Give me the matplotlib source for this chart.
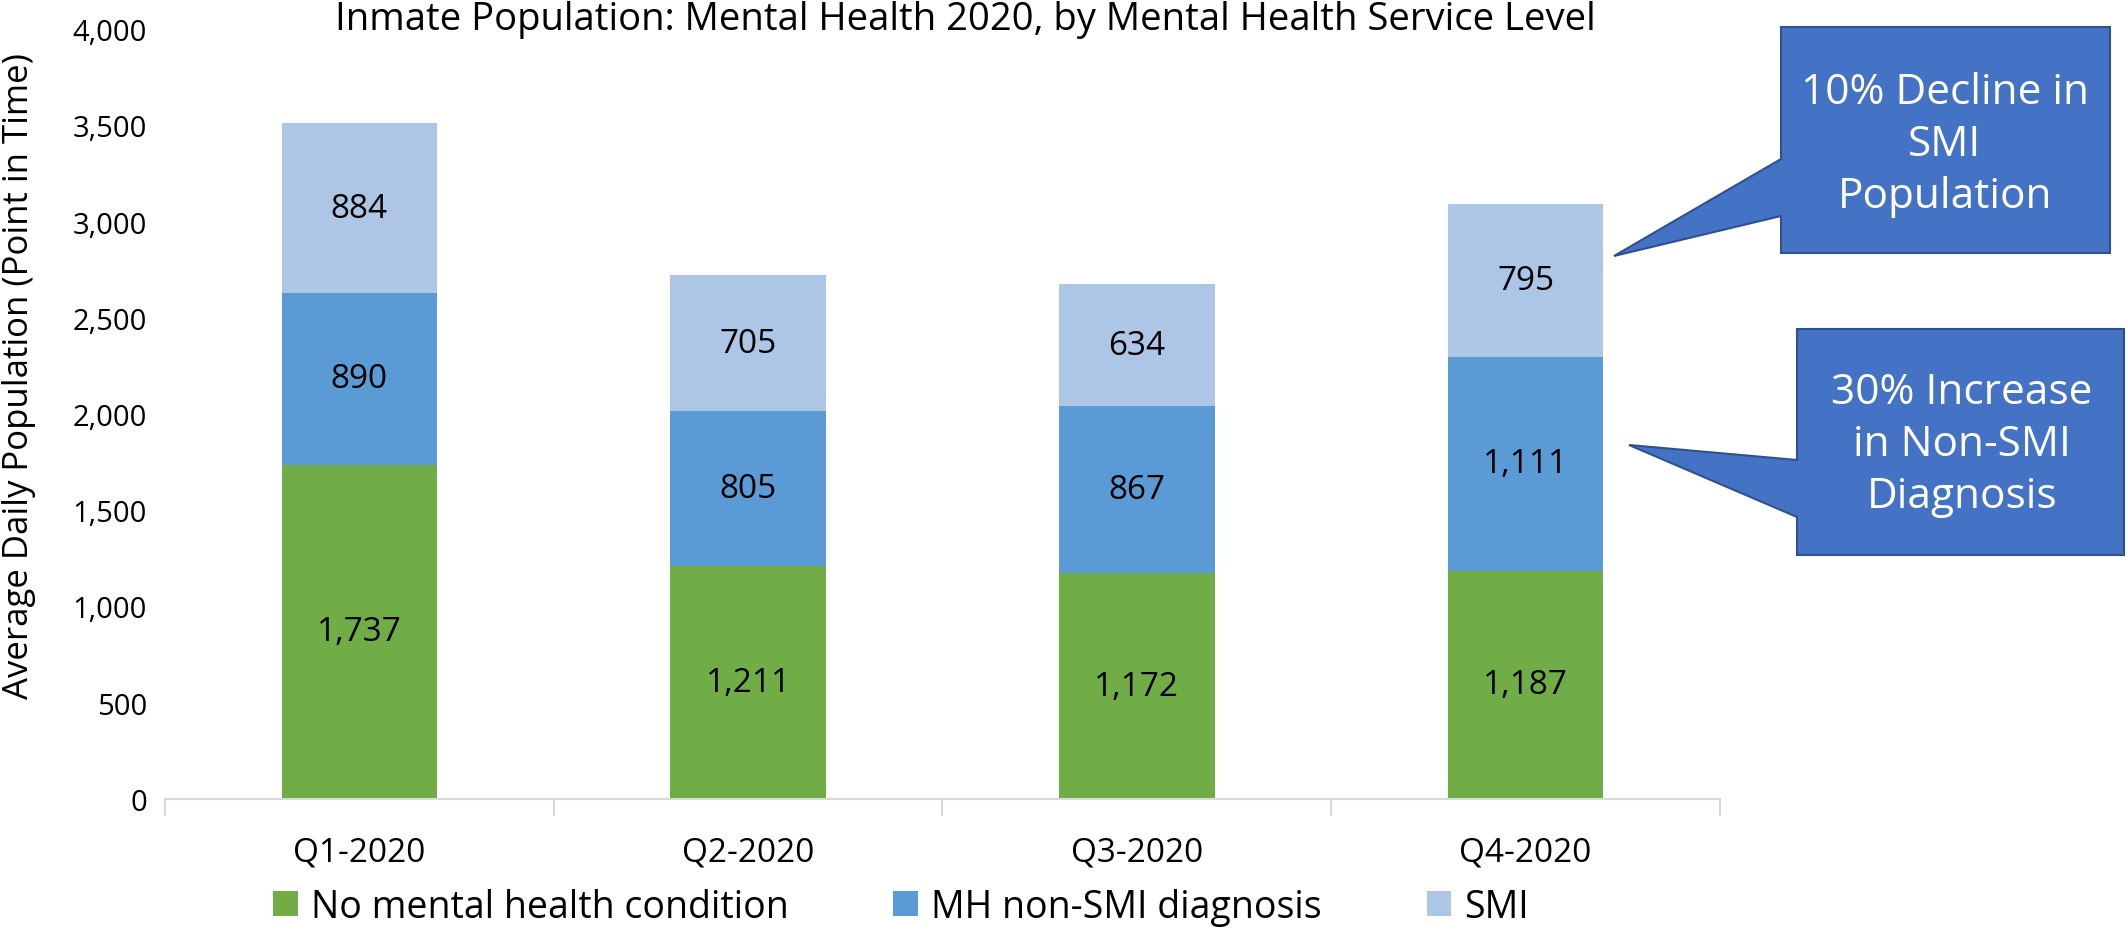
import numpy as np
import matplotlib
matplotlib.use('Agg')
import matplotlib.pyplot as plt
from matplotlib.patches import Polygon

plt.rcParams['font.family'] = ['Open Sans', 'DejaVu Sans']

# data
quarters = ['Q1-2020', 'Q2-2020', 'Q3-2020', 'Q4-2020']
no_mh = [1737, 1211, 1172, 1187]
mh_non_smi = [890, 805, 867, 1111]
smi = [884, 705, 634, 795]
series_names = ['No mental health condition', 'MH non-SMI diagnosis', 'SMI']
colors = ['#70AD47', '#5B9BD5', '#ADC6E5']

W, H = 2126, 929
fig = plt.figure(figsize=(W / 100, H / 100), dpi=100)
ax = fig.add_axes([165 / W, 1 - 800 / H, (1720 - 165) / W, (800 - 30) / H])

x = np.arange(len(quarters))
bottom = np.zeros(len(quarters))
for vals, name, col in zip([no_mh, mh_non_smi, smi], series_names, colors):
    bars = ax.bar(x, vals, width=0.40, bottom=bottom, color=col, label=name)
    labels = ['{:,}'.format(v) for v in vals]
    ax.bar_label(bars, labels=labels, label_type='center', fontsize=24, color='black')
    bottom += np.array(vals)

ax.set_xlim(-0.5, 3.5)
ax.set_ylim(0, 4000)
ax.set_yticks(np.arange(0, 4001, 500))
ax.set_yticklabels(['{:,}'.format(v) for v in range(0, 4001, 500)], fontsize=21)
ax.tick_params(axis='y', length=0, pad=13)
ax.set_xticks(x)
ax.set_xticklabels(quarters, fontsize=24)
ax.tick_params(axis='x', length=0, pad=26)
ax.set_xticks(np.arange(-0.5, 4, 1), minor=True)
ax.tick_params(axis='x', which='minor', length=12, color='#D9D9D9', width=1.5)
for s in ['top', 'right', 'left']:
    ax.spines[s].set_visible(False)
ax.spines['bottom'].set_color('#D9D9D9')
ax.spines['bottom'].set_linewidth(1.5)

fig.text(19 / W, 1 - 376 / H, 'Average Daily Population (Point in Time)', rotation=90,
         ha='center', va='center', fontsize=25)
fig.text(965 / W, 1 - 20 / H, 'Inmate Population: Mental Health 2020, by Mental Health Service Level',
         ha='center', va='center', fontsize=27.5)

fig.legend(loc='center', bbox_to_anchor=(901 / W, 1 - 908 / H), ncol=3, frameon=False,
           fontsize=27, handlelength=0.65, handleheight=0.65, handletextpad=0.35, columnspacing=2.8)

# callouts
def callout(pts, lines, cx, cy):
    poly = Polygon([(px / W, 1 - py / H) for px, py in pts], closed=True,
                   facecolor='#4472C4', edgecolor='#2F528F', linewidth=1.5,
                   transform=fig.transFigure)
    fig.patches.append(poly)
    fig.text(cx / W, 1 - cy / H, '\n'.join(lines), ha='center', va='center',
             color='white', fontsize=30.5, linespacing=1.3)

callout([(1781, 28), (2110, 28), (2110, 254), (1781, 254), (1781, 217), (1614, 257), (1781, 160)],
        ['10% Decline in', 'SMI', 'Population'], 1945, 145)
callout([(1797, 330), (2124, 330), (2124, 556), (1797, 556), (1797, 518), (1629, 446), (1797, 461)],
        ['30% Increase', 'in Non-SMI', 'Diagnosis'], 1962, 445)

fig.savefig('out.png', dpi=100)
